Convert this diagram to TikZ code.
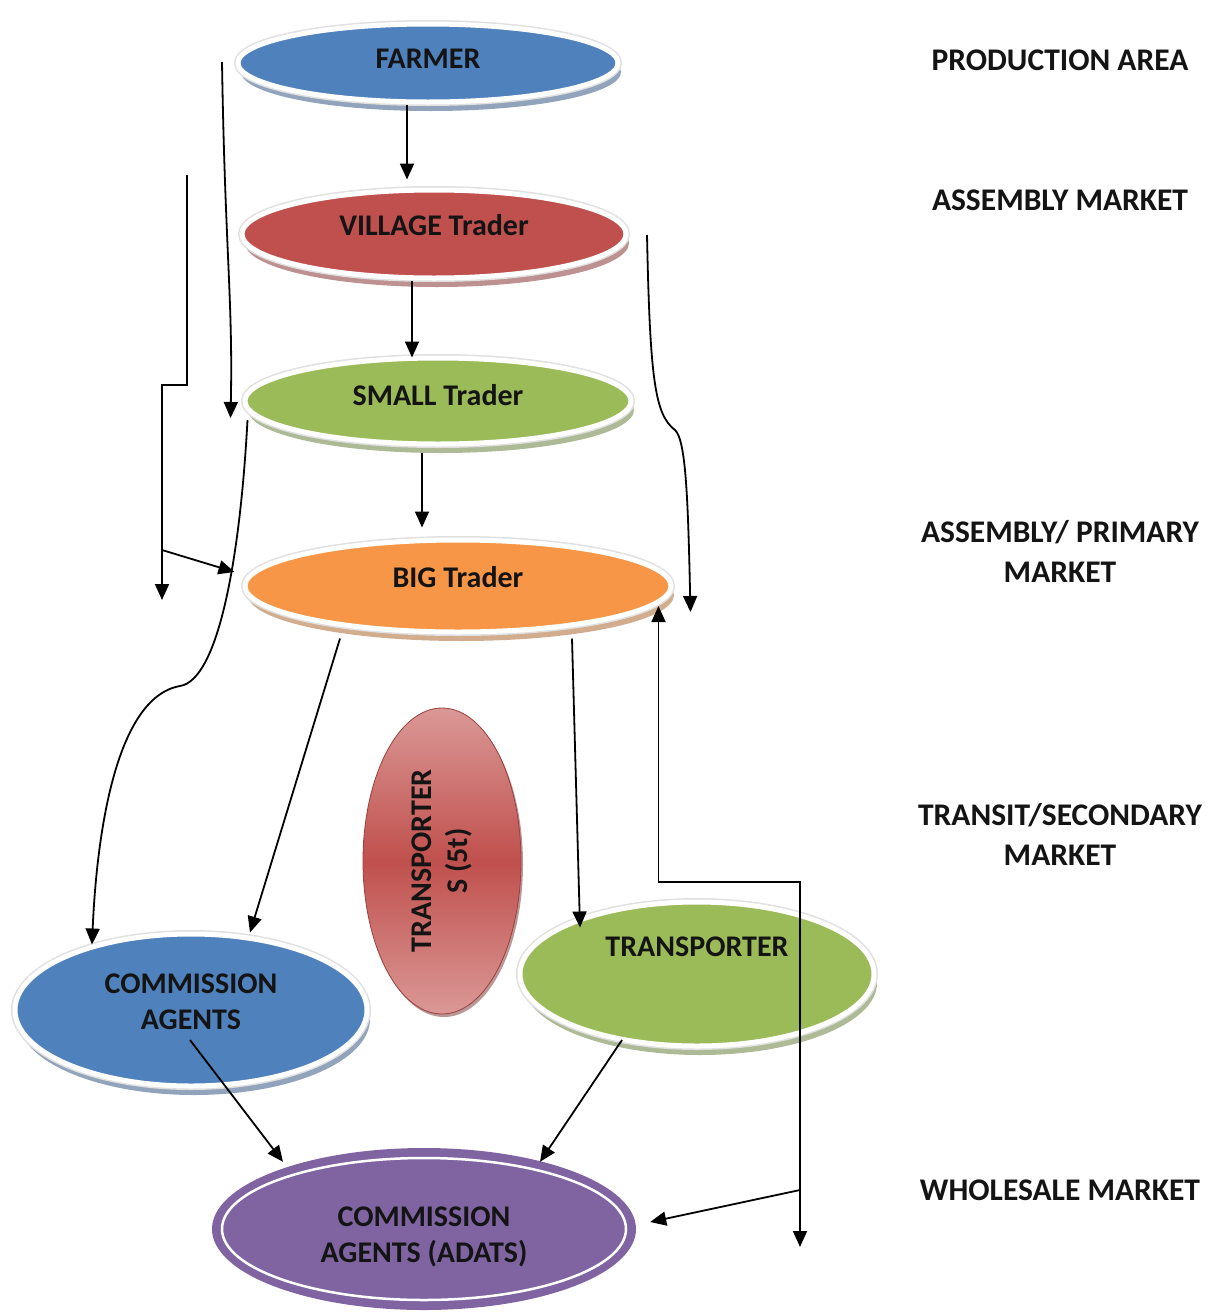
\documentclass[tikz,border=0pt]{standalone}
\usepackage{fontspec}
\setmainfont{Carlito}
\usetikzlibrary{shapes.geometric,arrows.meta,shadows}

\definecolor{cBlue}{HTML}{4F81BD}
\definecolor{cRed}{HTML}{C0504D}
\definecolor{cGreen}{HTML}{9BBB59}
\definecolor{cOrange}{HTML}{F79646}
\definecolor{cPurple}{HTML}{8064A2}
\definecolor{cPink}{HTML}{DA9896}
\definecolor{txt}{HTML}{141414}

\newcommand\ovalfont{\bfseries\fontsize{30}{36}\selectfont}
\newcommand\sidefont{\bfseries\fontsize{31.5}{40}\selectfont}

\tikzset{
  oval/.style={ellipse, inner sep=0pt,
    drop shadow={shadow xshift=3pt, shadow yshift=-9pt, fill=#1!70!black, opacity=0.55},
    preaction={draw=black!12, line width=8pt},
    fill=#1, draw=white, line width=5pt},
  ovtext/.style={align=center, text=txt, font=\ovalfont},
  side/.style={align=center, text=txt, font=\sidefont},
  tip/.tip={Triangle[length=16pt,width=14pt]},
  conn/.style={line width=1.8pt, -tip},
  conn2/.style={line width=1.8pt, tip-tip}
}

\begin{document}
\begin{tikzpicture}[x=1pt,y=-1pt]
\useasboundingbox (0,0) rectangle (1208,1312);
\fill[white] (0,0) rectangle (1208,1312);

% market chain
\node[oval=cBlue, minimum width=380pt, minimum height=78pt,
      label={[ovtext, yshift=4pt]center:FARMER}] (farmer) at (428,63) {};
\node[oval=cRed, minimum width=384pt, minimum height=88pt,
      label={[ovtext, yshift=9pt]center:VILLAGE Trader}] (village) at (434,234) {};
\node[oval=cGreen, minimum width=386pt, minimum height=86pt,
      label={[ovtext, yshift=6pt]center:SMALL Trader}] (small) at (438,401) {};
\node[oval=cOrange, minimum width=426pt, minimum height=92pt,
      label={[ovtext, yshift=9pt]center:BIG Trader}] (big) at (458,586) {};
\node[oval=cBlue, minimum width=352pt, minimum height=152pt,
      label={[ovtext, yshift=8pt]center:{COMMISSION\\AGENTS}}] (agents) at (191,1010) {};
\node[oval=cGreen, minimum width=354pt, minimum height=144pt,
      label={[ovtext, yshift=27pt]center:TRANSPORTER}] (trans) at (697,974) {};

% transporters (5t), shaded vertical oval
\node[ellipse, minimum width=158pt, minimum height=306pt, inner sep=0pt,
      drop shadow={shadow xshift=2pt, shadow yshift=-3pt, fill=cRed!60!black, opacity=0.5},
      top color=cPink, bottom color=cPink, middle color=cRed, draw=cRed!80!black, line width=0.8pt]
      (t5) at (442,861) {};
\node[ovtext, rotate=90] (t5text) at (t5.center) {TRANSPORTER\\S (5t)};

% wholesale market
\node[ellipse, minimum width=424pt, minimum height=162pt, inner sep=0pt, fill=cPurple,
      label={[ovtext, yshift=-8pt]center:{COMMISSION\\AGENTS (ADATS)}}] (adats) at (424,1229) {};
\draw[white, line width=2.5pt] (adats.center) ellipse [x radius=202pt, y radius=71pt];

% market levels
\node[side] (l1) at (1060,60) {PRODUCTION AREA};
\node[side] (l2) at (1060,200) {ASSEMBLY MARKET};
\node[side] (l3) at (1060,551) {ASSEMBLY/ PRIMARY\\MARKET};
\node[side] (l4) at (1060,834) {TRANSIT/SECONDARY\\MARKET};
\node[side] (l5) at (1060,1190) {WHOLESALE MARKET};

% free ends of the side lines
\coordinate (f4) at (222,62);
\coordinate (e1) at (187,175);
\coordinate (e2) at (162,600);
\coordinate (e3) at (162,550);
\coordinate (r1) at (647,235);
\coordinate (k1) at (800,882);
\coordinate (k2) at (800,1247);
\coordinate (k3) at (800,1190);

% main flow
\draw[conn] ([xshift=-21pt]farmer.south) -- ([xshift=-27pt,yshift=8pt]village.north);
\draw[conn] ([xshift=-22pt]village.south) -- ([xshift=-26pt,yshift=-2pt]small.north);
\draw[conn] ([xshift=-16pt,yshift=-6pt]small.south) -- ([xshift=-36pt,yshift=10pt]big.north);

% bypass lines on the left
\draw[conn] (f4) .. controls (225,250) and (233,300) .. ([xshift=-12pt,yshift=-17pt]small.west);
\draw[conn] (e1) -- ++(0,210) -| (e2);
\draw[conn] (e3) -- ([xshift=-8pt,yshift=14pt]big.west);
\draw[conn] ([xshift=5pt,yshift=-19pt]small.west)
  .. controls (240,560) and (218,680) .. (180,686)
  .. controls (112,698) and (96,850) .. ([xshift=-99pt,yshift=-13pt]agents.north);

% bypass line on the right
\draw[conn] (r1) .. controls (650,380) and (655,415) .. (675,430)
  .. controls (686,440) and (688,500) .. ([xshift=17pt,yshift=-26pt]big.east);

% big trader outlets
\draw[conn] ([xshift=-118pt,yshift=-4pt]big.south) -- ([xshift=59pt,yshift=-1pt]agents.north);
\draw[conn] ([xshift=114pt,yshift=-4pt]big.south) -- ([xshift=-117pt,yshift=-28pt]trans.north);
\draw[conn2] ([xshift=-15pt,yshift=-20pt]big.east) |- (k1) -- (k2);
\draw[conn] (k3) -- ([xshift=14pt,yshift=7pt]adats.east);

% into the wholesale market
\draw[conn] ([xshift=-1pt,yshift=-30pt]agents.center) -- ([xshift=-141pt,yshift=-14pt]adats.north);
\draw[conn] ([xshift=-75pt,yshift=-66pt]trans.center) -- ([xshift=116pt,yshift=-14pt]adats.north);
\end{tikzpicture}
\end{document}
